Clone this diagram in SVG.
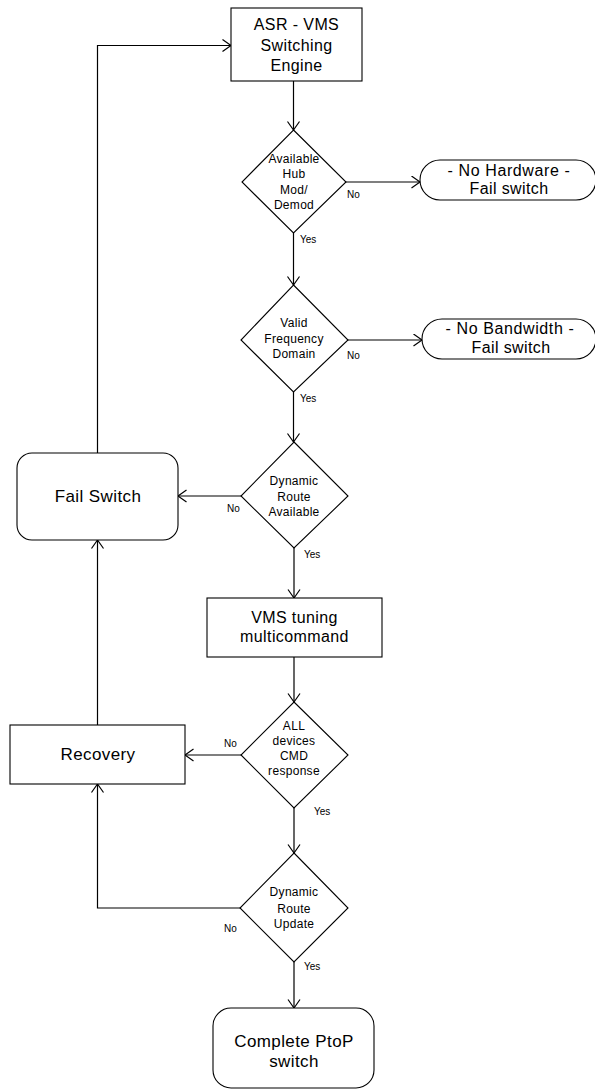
<svg xmlns="http://www.w3.org/2000/svg" width="595" height="1091" viewBox="0 0 595 1091">
  <style>
    .shape { fill: #ffffff; stroke: #000000; stroke-width: 1.1; }
    .edge { fill: none; stroke: #000000; stroke-width: 1.2; }
    .big { font-family: "Liberation Sans", Arial, sans-serif; font-size: 16px; fill: #000000; text-anchor: middle; letter-spacing: 0.4px; }
    .mid { font-family: "Liberation Sans", Arial, sans-serif; font-size: 12px; fill: #000000; text-anchor: middle; letter-spacing: 0.3px; }
    .lbl { font-family: "Liberation Sans", Arial, sans-serif; font-size: 10px; fill: #000000; }
  </style>
  <defs>
    <marker id="arrow" markerUnits="userSpaceOnUse" markerWidth="12" markerHeight="14" refX="9" refY="6.5" orient="auto">
      <path d="M0.5,0.5 L9,6.5 L0.5,12.5" fill="none" stroke="#000000" stroke-width="1.2"/>
    </marker>
  </defs>

  <rect width="595" height="1091" fill="#ffffff"/>

  <!-- connectors -->
  <g id="connectors">
    <path class="edge" d="M293.5,81 V130" marker-end="url(#arrow)"/>
    <path class="edge" d="M293.5,233 V285" marker-end="url(#arrow)"/>
    <path class="edge" d="M293.5,392 V442" marker-end="url(#arrow)"/>
    <path class="edge" d="M294,548 V598" marker-end="url(#arrow)"/>
    <path class="edge" d="M294,657 V702" marker-end="url(#arrow)"/>
    <path class="edge" d="M294,808 V853" marker-end="url(#arrow)"/>
    <path class="edge" d="M294,962 V1008" marker-end="url(#arrow)"/>
    <path class="edge" d="M346,182 H420" marker-end="url(#arrow)"/>
    <path class="edge" d="M348,340 H422" marker-end="url(#arrow)"/>
    <path class="edge" d="M241,496 H178" marker-end="url(#arrow)"/>
    <path class="edge" d="M241,755 H185" marker-end="url(#arrow)"/>
    <path class="edge" d="M240,908 H97.5 V784" marker-end="url(#arrow)"/>
    <path class="edge" d="M97.5,725 V540" marker-end="url(#arrow)"/>
    <path class="edge" d="M97.5,453 V45.5 H231" marker-end="url(#arrow)"/>

    <text class="lbl" x="347" y="198">No</text>
    <text class="lbl" x="300" y="243">Yes</text>
    <text class="lbl" x="347" y="359">No</text>
    <text class="lbl" x="300" y="402">Yes</text>
    <text class="lbl" x="227" y="512">No</text>
    <text class="lbl" x="304" y="558">Yes</text>
    <text class="lbl" x="224" y="747">No</text>
    <text class="lbl" x="314" y="815">Yes</text>
    <text class="lbl" x="224" y="932">No</text>
    <text class="lbl" x="304" y="970">Yes</text>
  </g>

  <!-- process: switching engine -->
  <g id="engine">
    <rect class="shape" x="231" y="8" width="131" height="73"/>
    <text class="big" x="296.5" y="30">ASR - VMS</text>
    <text class="big" x="296.5" y="51">Switching</text>
    <text class="big" x="296.5" y="71">Engine</text>
  </g>

  <!-- decision: hardware -->
  <g id="hub-check">
    <polygon class="shape" points="293.5,130 346,182 293.5,233 242,182"/>
    <text class="mid" x="294" y="163">Available</text>
    <text class="mid" x="294" y="178">Hub</text>
    <text class="mid" x="294" y="194">Mod/</text>
    <text class="mid" x="294" y="209">Demod</text>
  </g>

  <g id="no-hardware">
    <rect class="shape" x="420" y="160" width="176" height="40" rx="20" ry="20"/>
    <text class="big" x="509" y="176" style="letter-spacing:0.6px">- No Hardware -</text>
    <text class="big" x="509" y="194">Fail switch</text>
  </g>

  <!-- decision: frequency -->
  <g id="freq-check">
    <polygon class="shape" points="293.5,285 348,340 293.5,392 241,340"/>
    <text class="mid" x="294" y="327">Valid</text>
    <text class="mid" x="294" y="343">Frequency</text>
    <text class="mid" x="294" y="358">Domain</text>
  </g>

  <g id="no-bandwidth">
    <rect class="shape" x="422" y="319" width="174" height="40" rx="20" ry="20"/>
    <text class="big" x="510" y="334" style="letter-spacing:0.6px">- No Bandwidth -</text>
    <text class="big" x="511" y="353">Fail switch</text>
  </g>

  <!-- decision: route available -->
  <g id="route-check">
    <polygon class="shape" points="294,442 348,496 294,548 241,496"/>
    <text class="mid" x="294" y="485">Dynamic</text>
    <text class="mid" x="294" y="501">Route</text>
    <text class="mid" x="294" y="516">Available</text>
  </g>

  <g id="fail-switch">
    <rect class="shape" x="17" y="453" width="161" height="87" rx="15" ry="15"/>
    <text class="big" x="98" y="502" style="font-size:17px">Fail Switch</text>
  </g>

  <!-- process: tuning -->
  <g id="vms-tuning">
    <rect class="shape" x="207" y="598" width="175" height="59"/>
    <text class="big" x="294.5" y="623">VMS tuning</text>
    <text class="big" x="294.5" y="642">multicommand</text>
  </g>

  <!-- decision: command response -->
  <g id="cmd-check">
    <polygon class="shape" points="294,702 348,755 294,808 241,755"/>
    <text class="mid" x="294" y="730">ALL</text>
    <text class="mid" x="294" y="745">devices</text>
    <text class="mid" x="294" y="760">CMD</text>
    <text class="mid" x="294" y="775">response</text>
  </g>

  <g id="recovery">
    <rect class="shape" x="10" y="725" width="175" height="59"/>
    <text class="big" x="98" y="760" style="font-size:17px">Recovery</text>
  </g>

  <!-- decision: route update -->
  <g id="update-check">
    <polygon class="shape" points="294,853 348,908 294,962 240,908"/>
    <text class="mid" x="294" y="896">Dynamic</text>
    <text class="mid" x="294" y="913">Route</text>
    <text class="mid" x="294" y="928">Update</text>
  </g>

  <g id="complete">
    <rect class="shape" x="213" y="1008" width="161" height="80" rx="18" ry="18"/>
    <text class="big" x="294" y="1047" style="font-size:17px">Complete PtoP</text>
    <text class="big" x="294" y="1067" style="font-size:17px">switch</text>
  </g>
</svg>
